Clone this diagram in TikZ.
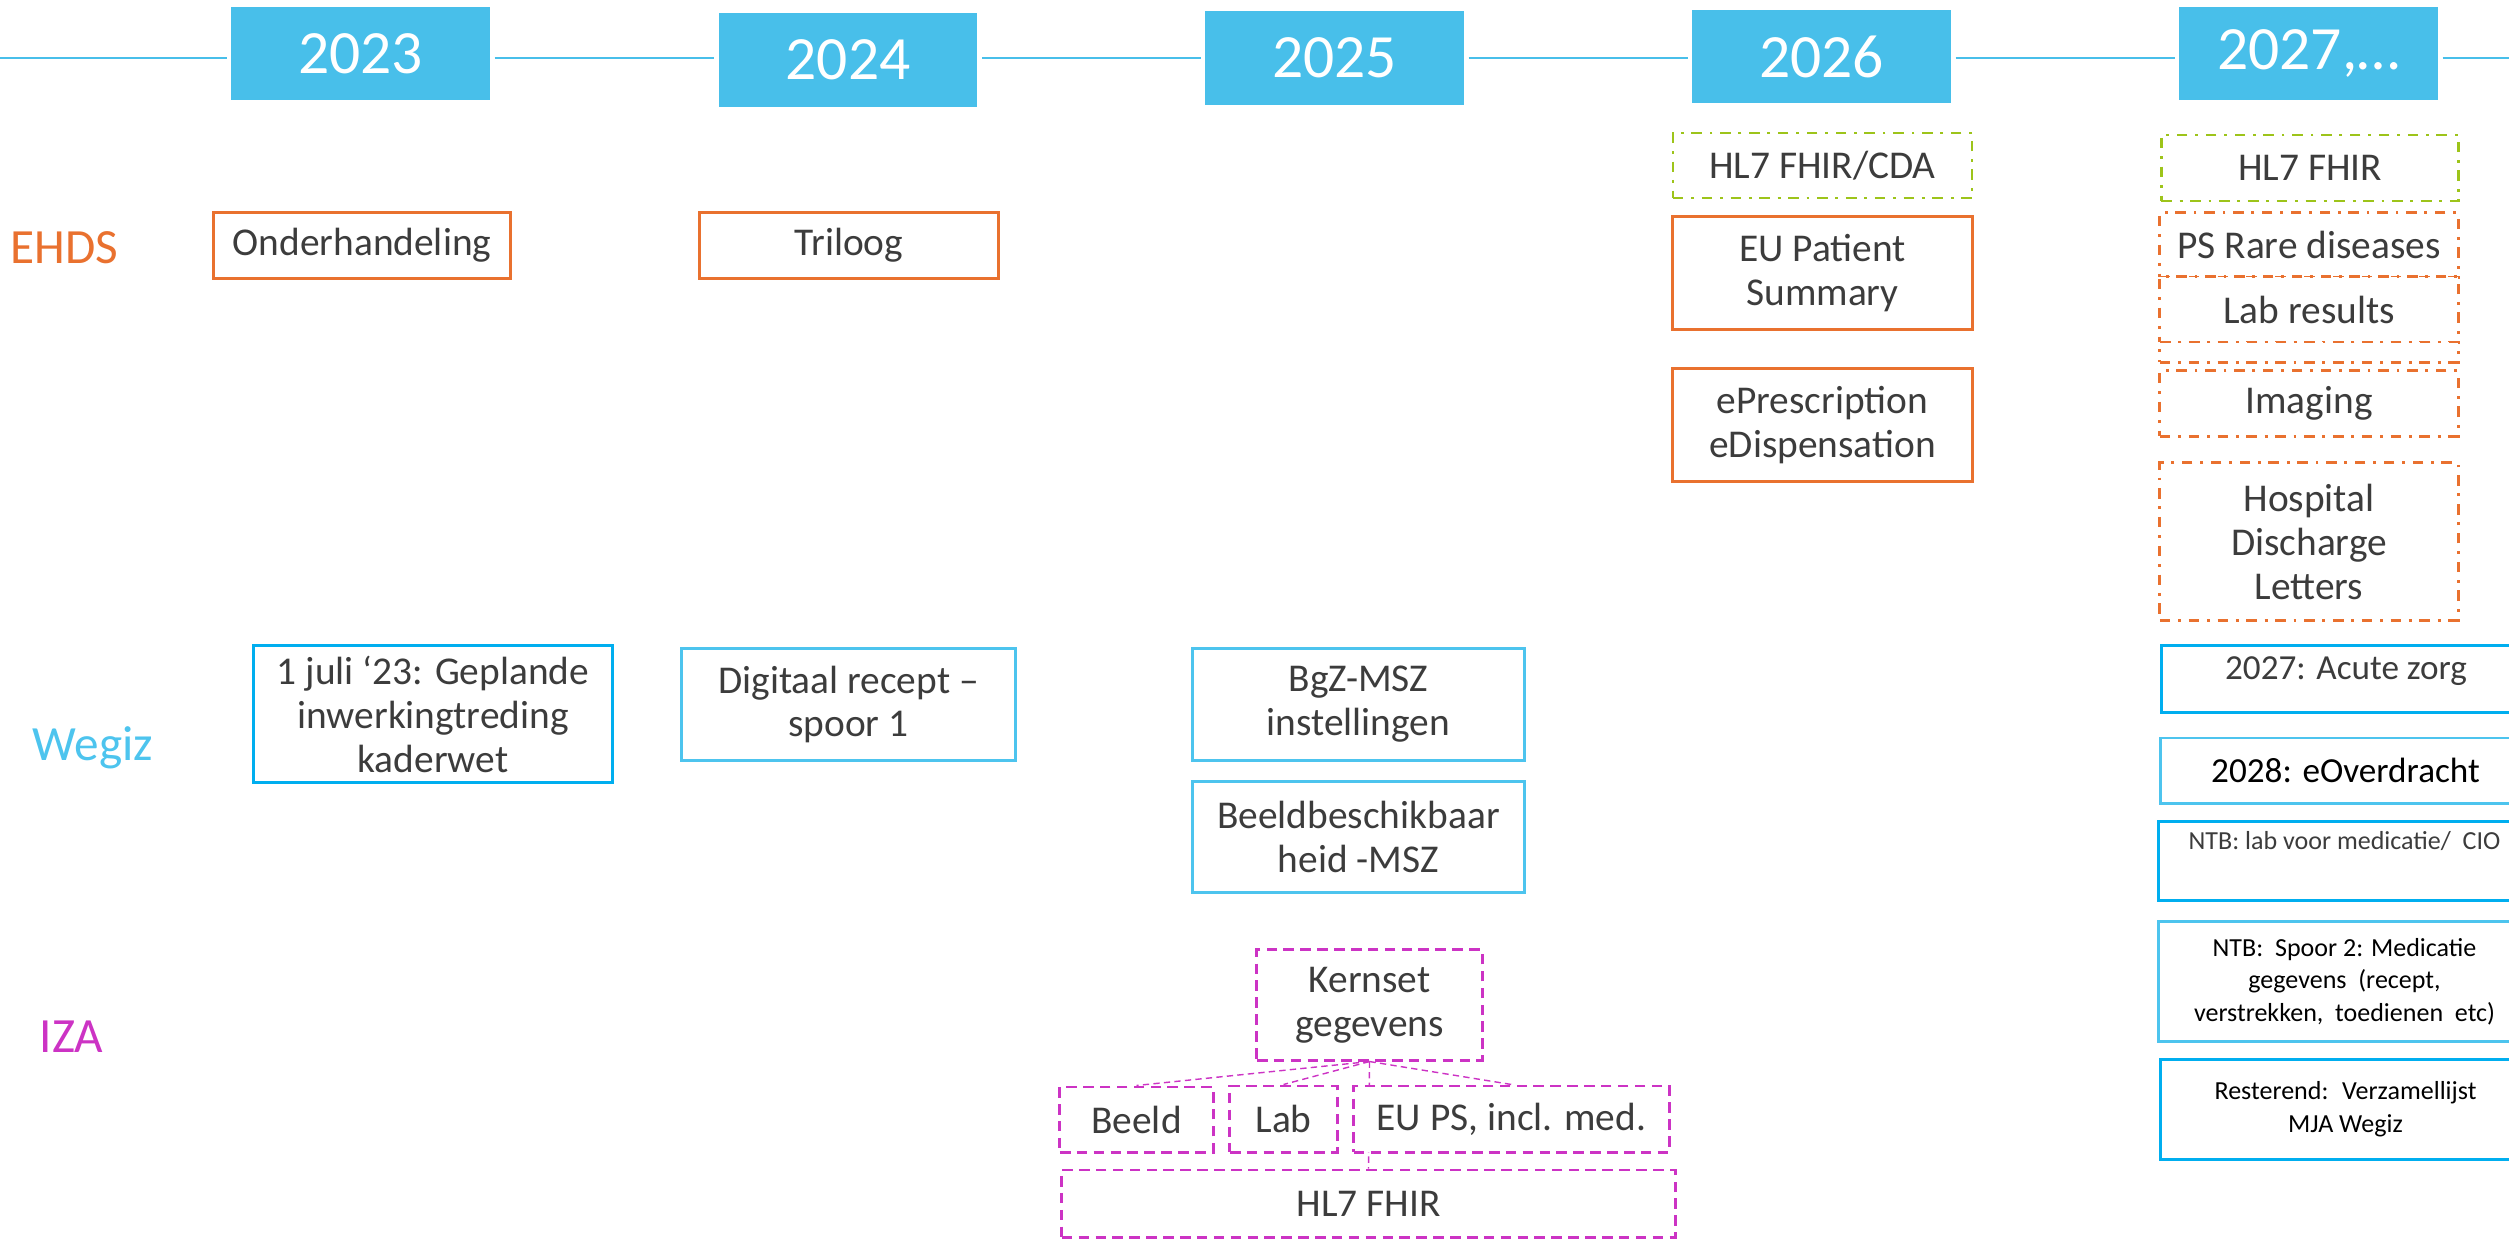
\documentclass[tikz,border=0pt]{standalone}
\usepackage{fontspec}
\setmainfont{Carlito}
\usetikzlibrary{backgrounds}
\definecolor{yearblue}{HTML}{48BFEA}
\definecolor{ehdsorange}{HTML}{E9712F}
\definecolor{fhirgreen}{HTML}{9DC41A}
\definecolor{izamagenta}{HTML}{CC33C4}
\definecolor{wegizblue}{HTML}{00AEEF}
\definecolor{wegizlight}{HTML}{4DC4EE}
\definecolor{textgray}{HTML}{3C3C3C}
\tikzset{
    yearbox/.style = {rectangle, fill=yearblue, text=white, minimum width=2.58cm, minimum height=0.93cm, font=\fontsize{17.5}{20}\selectfont},
    boxo/.style = {rectangle, line width=0.85pt, draw=ehdsorange, fill=white, align=center, inner sep=0pt, font=\fontsize{11.2}{12.5}\selectfont, text=textgray},
    boxod/.style = {boxo, dash pattern=on 3pt off 2.2pt on 0.8pt off 2.2pt},
    boxg/.style = {boxo, draw=fhirgreen, line width=0.75pt, dash pattern=on 3pt off 2.2pt on 0.8pt off 2.2pt},
    boxb/.style = {boxo, draw=wegizblue},
    boxbl/.style = {boxo, draw=wegizlight},
    boxm/.style = {boxo, draw=izamagenta, dash pattern=on 3pt off 1.8pt},
    boxsmall/.style = {font=\fontsize{7.4}{9.3}\selectfont},
    boxmid/.style = {font=\fontsize{10}{12}\selectfont},
    lane/.style = {anchor=base west, inner sep=0pt, font=\fontsize{14}{16}\selectfont},
    timeline/.style = {-, line width=0.85pt, yearblue, shorten <=1.2pt, shorten >=1.2pt},
    edgem/.style = {-, line width=0.4pt, izamagenta, dash pattern=on 1.8pt off 1.2pt}
}
\begin{document}
\begin{tikzpicture}[x=0.01cm, y=-0.01cm]
\useasboundingbox (0,0) rectangle (2509,1239);
\clip (0,0) rectangle (2509,1239);
% years
\node[yearbox] at (360.5, 53.5) (y23) {2023};
\node[yearbox] at (848.0, 60.0) (y24) {2024};
\node[yearbox] at (1334.5, 58.0) (y25) {2025};
\node[yearbox] at (1821.5, 56.5) (y26) {2026};
\node[yearbox] at (2308.5, 53.5) (y27) {2027,\dots};
%
\coordinate (tl0) at (-10, 58);
\coordinate (tl1) at (2520, 58);
\draw[timeline] (tl0) -- (tl0 -| y23.west);
\draw[timeline] (tl0 -| y23.east) -- (tl0 -| y24.west);
\draw[timeline] (tl0 -| y24.east) -- (tl0 -| y25.west);
\draw[timeline] (tl0 -| y25.east) -- (tl0 -| y26.west);
\draw[timeline] (tl0 -| y26.east) -- (tl0 -| y27.west);
\draw[timeline] (tl0 -| y27.east) -- (tl1);

% lanes
\node[lane, text=ehdsorange] at (10, 263) (ehds) {EHDS};
\node[lane, text=wegizlight] at (32, 760) (wegiz) {Wegiz};
\node[lane, text=izamagenta] at (39, 1052) (iza) {IZA};

% EHDS
\node[boxo, minimum width=2.96cm, minimum height=0.65cm] at (362, 245.5) (onder) {Onderhandeling};
\node[boxo, minimum width=2.98cm, minimum height=0.65cm] at (849, 245.5) (trilo) {Triloog};
\node[boxg, minimum width=2.99cm, minimum height=0.65cm] at (1822.5, 165.5) (fhircda) {HL7 FHIR/CDA};
\node[boxo, minimum width=2.99cm, minimum height=1.12cm] at (1822.5, 273) (eups) {EU Patient\\Summary};
\node[boxo, minimum width=2.99cm, minimum height=1.12cm] at (1822.5, 425) (epres) {ePrescription\\eDispensation};
\node[boxg, minimum width=2.97cm, minimum height=0.66cm] at (2310, 168) (fhir27) {HL7 FHIR};
\node[boxod, minimum width=2.98cm, minimum height=0.64cm] at (2309, 245) (psrare) {PS Rare diseases};
\node[boxod, minimum width=2.98cm, minimum height=0.65cm] at (2309, 309.5) (labres) {Lab results};
\node[boxod, minimum width=2.98cm, minimum height=0.20cm] at (2309, 352) (labextra) {};
\node[boxod, minimum width=2.98cm, minimum height=0.65cm] at (2309, 403.5) (imaging) {Imaging};
\node[boxod, minimum width=2.98cm, minimum height=1.57cm] at (2309, 541.5) (hospital) {Hospital\\Discharge\\Letters};

% Wegiz
\node[boxb, minimum width=3.58cm, minimum height=1.36cm] at (433, 714) (kader) {1 juli ‘23: Geplande\\inwerkingtreding\\kaderwet};
\node[boxbl, minimum width=3.33cm, minimum height=1.11cm] at (848.5, 704.5) (recept) {Digitaal recept –\\spoor 1};
\node[boxbl, minimum width=3.31cm, minimum height=1.11cm] at (1358.5, 704.5) (bgz) {BgZ-MSZ\\instellingen};
\node[boxbl, minimum width=3.31cm, minimum height=1.10cm] at (1358.5, 837) (beeldb) {Beeldbeschikbaar\\heid -MSZ};
\node[boxb, boxmid, text depth=0.21cm, minimum width=3.68cm, minimum height=0.66cm] at (2346, 679) (acute) {2027: Acute zorg};
\node[boxbl, boxmid, text=black, minimum width=3.69cm, minimum height=0.65cm] at (2345.5, 770.5) (overdr) {2028: eOverdracht};
\node[boxb, boxsmall, text depth=0.42cm, minimum width=3.71cm, minimum height=0.78cm] at (2344.5, 861) (ntblab) {NTB: lab voor medicatie/~ CIO};
\node[boxbl, boxsmall, text=black, minimum width=3.71cm, minimum height=1.19cm] at (2344.5, 981.5) (spoor2) {NTB:~ Spoor 2: Medicatie\\gegevens~ (recept,\\verstrekken,~ toedienen~ etc)};
\node[boxb, boxsmall, text=black, minimum width=3.69cm, minimum height=0.99cm] at (2345.5, 1109.5) (rest) {Resterend:~ Verzamellijst\\MJA Wegiz};

% IZA
\node[boxm, minimum width=2.25cm, minimum height=1.10cm] at (1369.5, 1005) (kernset) {Kernset\\gegevens};
\node[boxm, minimum width=1.53cm, minimum height=0.65cm] at (1136.5, 1119.5) (ibeeld) {Beeld};
\node[boxm, minimum width=1.07cm, minimum height=0.66cm] at (1283.5, 1119) (ilab) {Lab};
\node[boxm, minimum width=3.15cm, minimum height=0.66cm] at (1511.5, 1119) (ieups) {EU PS, incl. med.};
\node[boxm, minimum width=6.13cm, minimum height=0.67cm] at (1368.5, 1203.5) (ifhir) {HL7 FHIR};
%
\begin{scope}[on background layer]
\draw[edgem] (kernset.south) -- (ibeeld.north);
\draw[edgem] (kernset.south) -- (ilab.north);
\draw[edgem] (kernset.south) -- (ieups.north);
\draw[edgem] (kernset.south) -- (ifhir.north);
\end{scope}
\end{tikzpicture}
\end{document}
